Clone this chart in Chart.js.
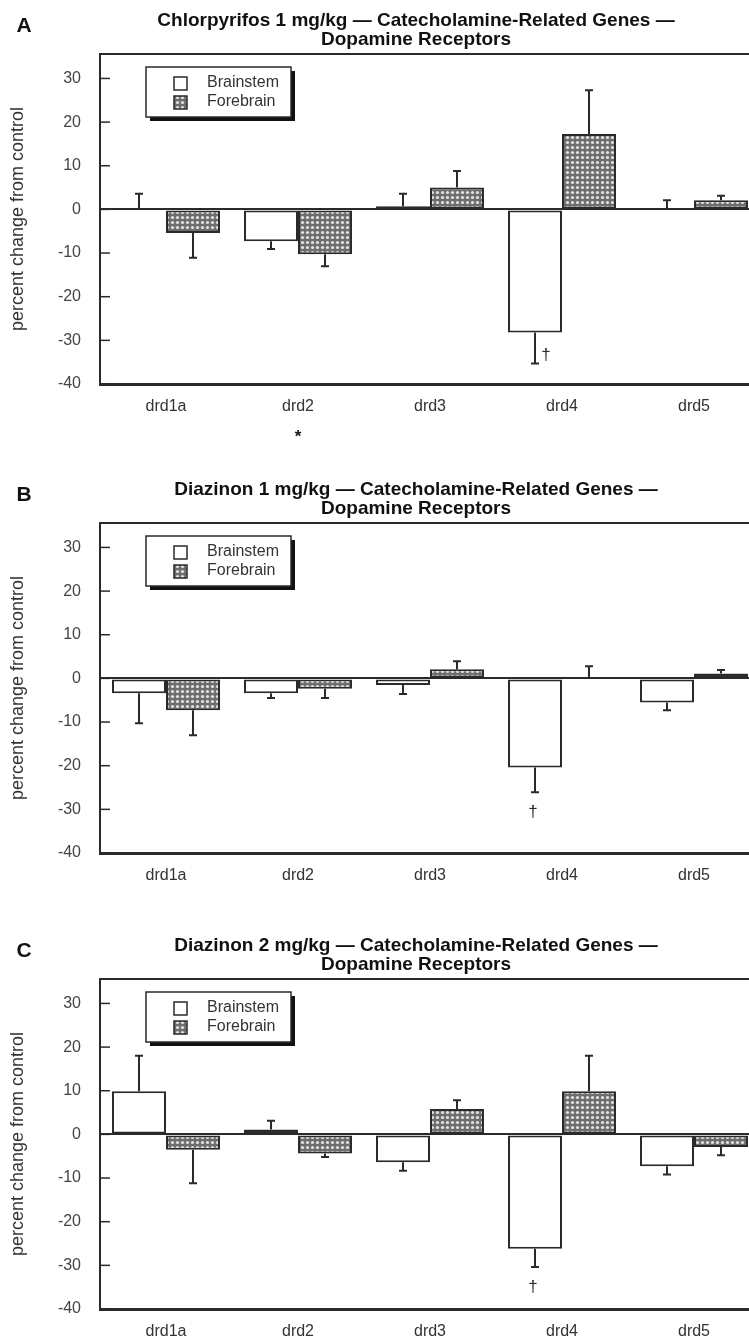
<!DOCTYPE html>
<html lang="en">
<head>
<meta charset="UTF-8">
<title>Dopamine Receptors</title>
<script src="https://cdn.jsdelivr.net/npm/chart.js@4.4.0/dist/chart.umd.min.js"></script>
<style>
    html, body { margin: 0; padding: 0; background: #fff; }
    #page { position: relative; width: 749px; height: 1337px; overflow: hidden; }
    #page canvas { position: absolute; left: 0; }
</style>
</head>
<body>
<div id="page">
    <canvas id="chartA" width="760" height="445" style="top:0px"></canvas>
    <canvas id="chartB" width="760" height="445" style="top:469px"></canvas>
    <canvas id="chartC" width="760" height="445" style="top:925px"></canvas>
</div>

<script>
    const categories = ['drd1a', 'drd2', 'drd3', 'drd4', 'drd5'];
    const seriesNames = ['Brainstem', 'Forebrain'];
    const yTicks = [-40, -30, -20, -10, 0, 10, 20, 30];

    // A: chlorpyrifos 1 mg/kg
    const titleA = ['Chlorpyrifos 1 mg/kg \u2014 Catecholamine-Related Genes \u2014', 'Dopamine Receptors'];
    const brainA = [0, -7.3, 0.7, -28.2, 0];
    const brainErrA = [3.6, 1.8, 2.9, 7.1, 2.1];
    const foreA = [-5.4, -10.3, 5.0, 17.3, 2.1];
    const foreErrA = [5.7, 2.7, 3.8, 10.0, 1.0];
    const brainMarkA = ['', '', '', '\u2020', ''];
    const catMarkA = ['', '*', '', '', ''];

    // B: diazinon 1 mg/kg
    const titleB = ['Diazinon 1 mg/kg \u2014 Catecholamine-Related Genes \u2014', 'Dopamine Receptors'];
    const brainB = [-3.4, -3.4, -1.5, -20.4, -5.5];
    const brainErrB = [6.9, 1.1, 2.1, 5.7, 1.8];
    const foreB = [-7.3, -2.4, 2.1, 0, 1.1];
    const foreErrB = [5.7, 2.1, 1.8, 2.8, 0.8];
    const brainMarkB = ['', '', '', '\u2020', ''];
    const catMarkB = ['', '', '', '', ''];

    // C: diazinon 2 mg/kg
    const titleC = ['Diazinon 2 mg/kg \u2014 Catecholamine-Related Genes \u2014', 'Dopamine Receptors'];
    const brainC = [9.9, 1.1, -6.4, -26.2, -7.3];
    const brainErrC = [8.1, 2.0, 1.9, 4.2, 1.9];
    const foreC = [-3.5, -4.4, 5.8, 9.9, -2.9];
    const foreErrC = [7.7, 0.8, 2.0, 8.1, 1.9];
    const brainMarkC = ['', '', '', '\u2020', ''];
    const catMarkC = ['', '', '', '', ''];

    const FONT = '"Liberation Sans", Arial, Helvetica, sans-serif';
    const INK = '#2a2a2a';

    function hatch(ctx) {
        const c = document.createElement('canvas');
        c.width = 5; c.height = 5;
        const g = c.getContext('2d');
        g.fillStyle = '#6e6e6e';
        g.fillRect(0, 0, 5, 5);
        g.fillStyle = '#e2e2e2';
        g.beginPath();
        g.arc(2.5, 2.5, 1.6, 0, Math.PI * 2);
        g.fill();
        return ctx.createPattern(c, 'repeat');
    }

    // title, panel letter, frame, inward ticks, legend, error bars, marks
    const decor = {
        id: 'decor',
        afterDatasetsDraw(chart) {
            const ctx = chart.ctx;
            const y = chart.scales.y;
            ctx.save();
            chart.data.datasets.forEach((ds, i) => {
                const meta = chart.getDatasetMeta(i);
                meta.data.forEach((bar, j) => {
                    const v = ds.data[j];
                    const e = ds.errors[j];
                    const end = v < 0 ? v - e : v + e;
                    const y0 = y.getPixelForValue(v);
                    const y1 = y.getPixelForValue(end);
                    ctx.strokeStyle = INK;
                    ctx.lineWidth = 2;
                    ctx.beginPath();
                    ctx.moveTo(bar.x, y0);
                    ctx.lineTo(bar.x, y1);
                    ctx.moveTo(bar.x - 4, y1);
                    ctx.lineTo(bar.x + 4, y1);
                    ctx.stroke();
                    const m = ds.marks ? ds.marks[j] : '';
                    if (m) {
                        ctx.fillStyle = INK;
                        ctx.font = '17px ' + FONT;
                        ctx.textAlign = 'center';
                        ctx.textBaseline = 'middle';
                        if (chart.options.plugins.decor.markSide) {
                            ctx.fillText(m, bar.x + 11, y1 - 8);
                        } else {
                            ctx.fillText(m, bar.x - 2, y1 + 20);
                        }
                    }
                });
            });
            ctx.restore();
        },
        afterDraw(chart) {
            const ctx = chart.ctx;
            const opts = chart.options.plugins.decor;
            const area = chart.chartArea;
            const y = chart.scales.y;
            const x = chart.scales.x;
            ctx.save();

            // top frame line
            ctx.strokeStyle = INK;
            ctx.lineWidth = 2;
            ctx.beginPath();
            ctx.moveTo(area.left - 1, area.top);
            ctx.lineTo(area.right, area.top);
            ctx.stroke();

            // inward ticks
            ctx.lineWidth = 1.5;
            y.ticks.forEach(t => {
                const py = y.getPixelForValue(t.value);
                ctx.beginPath();
                ctx.moveTo(area.left, py);
                ctx.lineTo(area.left + 10, py);
                ctx.stroke();
            });

            // title + letter
            ctx.fillStyle = '#111';
            ctx.textAlign = 'center';
            ctx.textBaseline = 'middle';
            ctx.font = 'bold 19px ' + FONT;
            opts.title.forEach((line, k) => ctx.fillText(line, 416, 21 + k * 18.5));
            ctx.font = 'bold 21px ' + FONT;
            ctx.fillText(opts.letter, 24, 26);

            // marks under category labels
            ctx.font = 'bold 17px ' + FONT;
            ctx.textBaseline = 'alphabetic';
            opts.catMarks.forEach((m, j) => {
                if (m) ctx.fillText(m, x.getPixelForValue(j), area.bottom + 58);
            });

            // legend box with drop shadow
            const bx = area.left + 46, by = area.top + 13, bw = 145, bh = 50;
            ctx.fillStyle = '#111';
            ctx.fillRect(bx + 4, by + 4, bw, bh);
            ctx.fillStyle = '#fff';
            ctx.fillRect(bx, by, bw, bh);
            ctx.strokeStyle = INK;
            ctx.lineWidth = 1.5;
            ctx.strokeRect(bx, by, bw, bh);
            chart.data.datasets.forEach((ds, i) => {
                const sy = by + 10 + i * 19;
                ctx.fillStyle = ds.backgroundColor;
                ctx.fillRect(bx + 28, sy, 13, 13);
                ctx.strokeStyle = INK;
                ctx.lineWidth = 1.5;
                ctx.strokeRect(bx + 28, sy, 13, 13);
                ctx.fillStyle = '#333';
                ctx.font = '16px ' + FONT;
                ctx.textAlign = 'left';
                ctx.textBaseline = 'middle';
                ctx.fillText(ds.label, bx + 61, sy + 6);
            });
            ctx.restore();
        }
    };

    function makeChart(id, letter, title, brain, brainErr, fore, foreErr, brainMarks, catMarks, markSide) {
        const canvas = document.getElementById(id);
        const ctx = canvas.getContext('2d');
        return new Chart(ctx, {
            type: 'bar',
            data: {
                labels: categories,
                datasets: [{
                    label: seriesNames[0],
                    data: brain,
                    errors: brainErr,
                    marks: brainMarks,
                    backgroundColor: '#ffffff',
                    borderColor: INK,
                    borderWidth: 2,
                    borderSkipped: false
                }, {
                    label: seriesNames[1],
                    data: fore,
                    errors: foreErr,
                    backgroundColor: hatch(ctx),
                    borderColor: INK,
                    borderWidth: 2,
                    borderSkipped: false
                }]
            },
            options: {
                responsive: false,
                animation: false,
                devicePixelRatio: 1,
                categoryPercentage: 0.818,
                barPercentage: 1.0,
                layout: { padding: { left: 0, right: 0, top: 54, bottom: 21 } },
                plugins: {
                    legend: { display: false },
                    tooltip: { enabled: false },
                    decor: { letter: letter, title: title, catMarks: catMarks, markSide: markSide }
                },
                scales: {
                    x: {
                        grid: { display: false },
                        border: { display: true, color: INK, width: 3 },
                        ticks: { color: '#333', padding: 5, font: { family: FONT, size: 16 } },
                        afterFit(scale) { scale.height = 40; }
                    },
                    y: {
                        min: -40,
                        max: 35.6,
                        afterBuildTicks(scale) { scale.ticks = yTicks.map(v => ({ value: v })); },
                        grid: {
                            drawTicks: false,
                            lineWidth: 2,
                            color: c => (c.tick && c.tick.value === 0) ? INK : 'rgba(0,0,0,0)'
                        },
                        border: { display: true, color: INK, width: 2 },
                        ticks: { color: '#444', padding: 19, font: { family: FONT, size: 16 } },
                        title: {
                            display: true,
                            text: 'percent change from control',
                            color: '#333',
                            padding: { top: 7, bottom: 0 },
                            font: { family: FONT, size: 18 }
                        },
                        afterFit(scale) { scale.width = 100; }
                    }
                }
            },
            plugins: [decor]
        });
    }

    makeChart('chartA', 'A', titleA, brainA, brainErrA, foreA, foreErrA, brainMarkA, catMarkA, true);
    makeChart('chartB', 'B', titleB, brainB, brainErrB, foreB, foreErrB, brainMarkB, catMarkB, false);
    makeChart('chartC', 'C', titleC, brainC, brainErrC, foreC, foreErrC, brainMarkC, catMarkC, false);
</script>
</body>
</html>
